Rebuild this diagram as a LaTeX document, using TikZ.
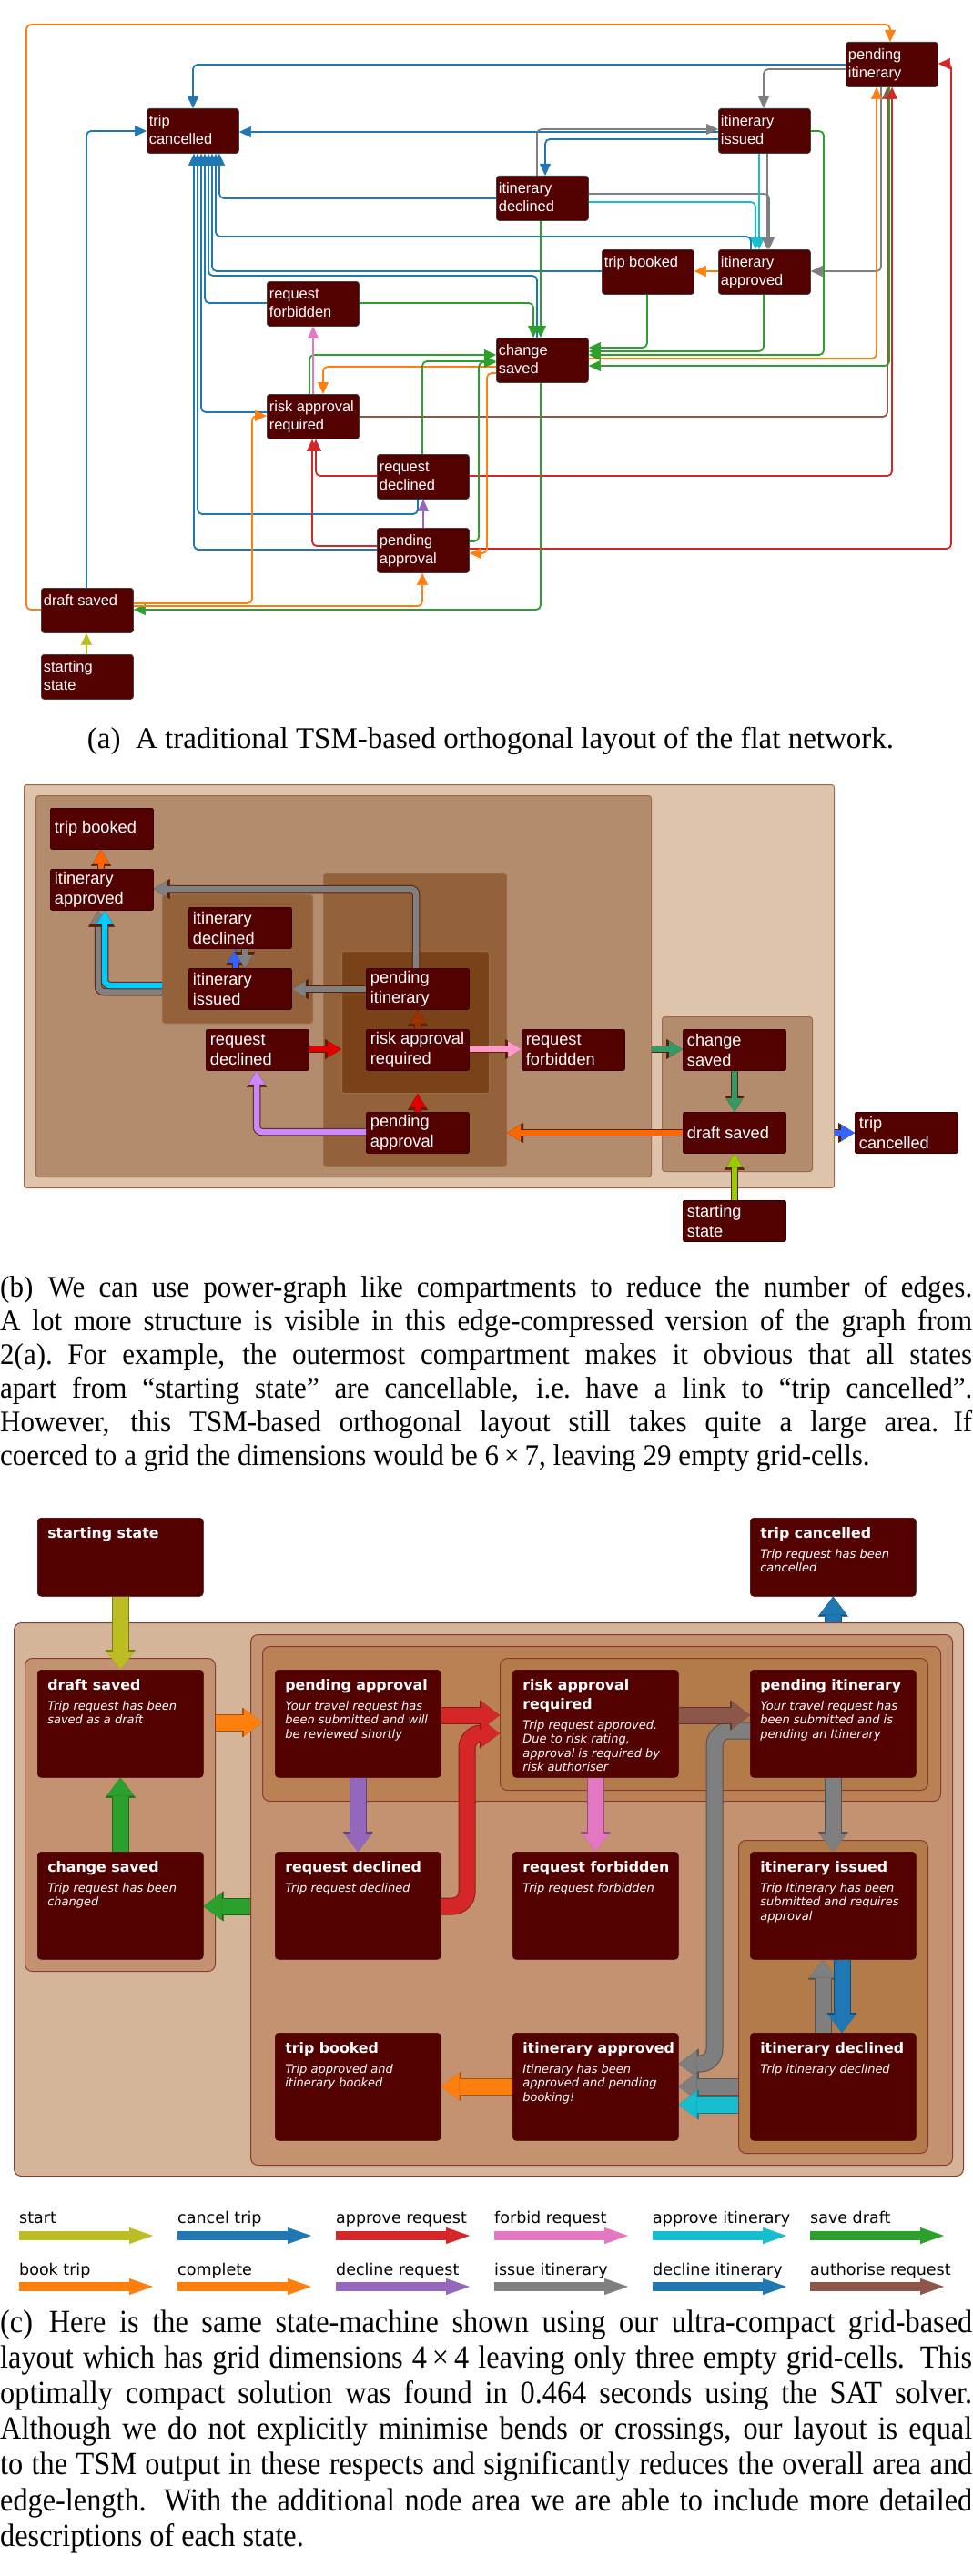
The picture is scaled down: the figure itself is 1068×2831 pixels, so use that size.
\documentclass[tikz,border=0pt]{standalone}
\usepackage{fontspec}
\setmainfont{Liberation Serif}
\newfontfamily\capbfont{Liberation Serif}[FakeStretch=0.94]
\newfontfamily\capcfont{Liberation Serif}[FakeStretch=0.91]
\newfontfamily\asans{Liberation Sans}
\newfontfamily\dsans{DejaVu Sans}[ItalicFont={DejaVu Sans Oblique},BoldFont={DejaVu Sans Bold},BoldItalicFont={DejaVu Sans Bold Oblique}]
\usetikzlibrary{arrows.meta}

\definecolor{nred}{HTML}{520000}
\definecolor{tblue}{HTML}{1F77B4}
\definecolor{torange}{HTML}{FF7F0E}
\definecolor{tgreen}{HTML}{2CA02C}
\definecolor{tred}{HTML}{D62728}
\definecolor{tpurple}{HTML}{9467BD}
\definecolor{tbrown}{HTML}{8C564B}
\definecolor{tpink}{HTML}{E377C2}
\definecolor{tgrey}{HTML}{7F7F7F}
\definecolor{tolive}{HTML}{BCBD22}
\definecolor{tcyan}{HTML}{17BECF}
\definecolor{borange}{HTML}{FF6600}
\definecolor{bgrey}{HTML}{808080}
\definecolor{bcyan}{HTML}{00CCFF}
\definecolor{bblue}{HTML}{3366FF}
\definecolor{bbrown}{HTML}{993300}
\definecolor{bred}{HTML}{E00000}
\definecolor{bpink}{HTML}{FF99CC}
\definecolor{bpurple}{HTML}{CC88FF}
\definecolor{bgreen}{HTML}{339966}
\definecolor{bolive}{HTML}{99CC00}
\definecolor{boutline}{HTML}{5A1E0A}
\definecolor{bc1}{HTML}{DDC4AB}
\definecolor{bc2}{HTML}{B38B6D}
\definecolor{bc3}{HTML}{93623A}
\definecolor{bc4}{HTML}{7A4218}
\definecolor{bcline}{HTML}{9A6A4A}
\definecolor{cc1}{HTML}{D5B59A}
\definecolor{cc2}{HTML}{C39270}
\definecolor{cc3}{HTML}{B98154}
\definecolor{cc4}{HTML}{B47B4A}
\definecolor{ccline}{HTML}{8B3A30}

\newcommand\atx[1]{\parbox[c][49pt][t]{101pt}{\asans\fontsize{16.4}{20}\selectfont\leftskip=2.5pt\rightskip=0pt plus 1fil\rule{0pt}{19pt}#1}}
\newcommand\btx[1]{\parbox[c][45pt][c]{113pt}{\asans\fontsize{18.2}{22}\selectfont\leftskip=4.5pt\rightskip=0pt plus 1fil #1}}
\newcommand\ctx[3][118pt]{\parbox[c][#1][t]{182pt}{\dsans\leftskip=11pt\rightskip=0pt plus 1fil\fontsize{15.8}{21}\selectfont\bfseries\rule{0pt}{22pt}#2\par\vspace{6.5pt}\fontsize{13}{15.5}\selectfont\mdseries\itshape #3\par}}

\tikzset{
  anode/.style={rectangle, rounded corners=3pt, fill=nred, draw=black!75, line width=0.8pt, inner sep=0pt, anchor=north west, text=white},
  bnode/.style={rectangle, rounded corners=2pt, fill=nred, draw=nred!70!black, line width=0.8pt, inner sep=0pt, anchor=north west, text=white},
  cnode/.style={rectangle, rounded corners=4pt, fill=nred, draw=nred!80!black, line width=0.6pt, inner sep=0pt, anchor=north west, text=white},
  comp/.style={rectangle, inner sep=0pt, anchor=north west, draw=bcline, line width=1pt, rounded corners=3pt},
  ccomp/.style={rectangle, inner sep=0pt, anchor=north west, draw=ccline, line width=1pt, rounded corners=8pt},
  aedge/.style={line width=1.8pt, rounded corners=5pt, -{Triangle[width=12pt,length=13pt,line width=0.4pt]}},
  fatb/.style={preaction={draw=boutline, line width=8.5pt, -{Triangle[width=22pt,length=18pt,line width=0.4pt]}}, draw=#1, line width=6.5pt, -{Triangle[width=18pt,length=15pt,line width=0.4pt]}, rounded corners=6pt},
  fatc/.style={preaction={draw=#1!65!black, line width=19pt, -{Triangle[width=33pt,length=22pt,line width=0.4pt]}}, draw=#1, line width=17pt, -{Triangle[width=30pt,length=20pt,line width=0.4pt]}, rounded corners=16pt},
  lgarrow/.style={line width=9.5pt, -{Triangle[width=18pt,length=26pt,line width=0.4pt]}},
  lgtext/.style={anchor=base west, inner sep=0pt, font={\dsans\fontsize{17.5}{20}\selectfont}},
}

\begin{document}
\begin{tikzpicture}[x=1pt,y=-1pt]
\fill[white] (0,0) rectangle (1068,2831);
\useasboundingbox (0,0) rectangle (1068,2831);

% ================= (a) =================
\node[anode] (pi) at (929,46) {\atx{pending\\itinerary}};
\node[anode] (tc) at (161,119) {\atx{trip\\cancelled}};
\node[anode] (iis) at (789,119) {\atx{itinerary\\issued}};
\node[anode] (idc) at (545,193) {\atx{itinerary\\declined}};
\node[anode] (tb) at (661,274) {\atx{trip booked}};
\node[anode] (iap) at (789,274) {\atx{itinerary\\approved}};
\node[anode] (rf) at (293,309) {\atx{request\\forbidden}};
\node[anode] (cs) at (545,371) {\atx{change\\saved}};
\node[anode] (rar) at (293,433) {\atx{risk approval\\required}};
\node[anode] (rd) at (414,499) {\atx{request\\declined}};
\node[anode] (pa) at (414,580) {\atx{pending\\approval}};
\node[anode] (ds) at (45,646) {\atx{draft saved}};
\node[anode] (ss) at (45,719) {\atx{starting\\state}};

\draw[aedge,torange] (ds.west |- 0,670) -- (29,670) -- (29,27) -- (978,27) -- (pi.north -| 978,0);
\draw[aedge,tblue] (pi.west |- 0,71) -- (212,71) -- (tc.north -| 212,0);
\draw[aedge,tgrey] (pi.west |- 0,76) -- (839,76) -- (iis.north -| 839,0);
\draw[aedge,tgrey] (pi.south -| 968,0) -- (968,298) -- (iap.east |- 0,298);
\draw[aedge,torange] (cs.east |- 0,394) -- (963,394) -- (pi.south -| 963,0);
\draw[aedge,tbrown] (rar.east |- 0,458) -- (975,458) -- (pi.south -| 975,0);
\draw[aedge,tgreen] (pi.south -| 977,0) -- (977,402) -- (cs.east |- 0,402);
\draw[aedge,tred] (rd.east |- 0,523) -- (980,523) -- (pi.south -| 980,0);
\draw[aedge,tred] (pa.east |- 0,603) -- (1045,603) -- (1045,70) -- (pi.east |- 0,70);
\draw[aedge,tgreen] (iis.east |- 0,144) -- (905,144) -- (905,390) -- (cs.east |- 0,390);
\draw[aedge,tgreen] (iap.south -| 839,0) -- (839,386) -- (cs.east |- 0,386);
\draw[aedge,tgreen] (tb.south -| 711,0) -- (711,382) -- (cs.east |- 0,382);
\draw[aedge,tblue] (iis.west |- 0,145) -- (tc.east |- 0,145);
\draw[aedge,tgrey] (idc.north -| 590,0) -- (590,142) -- (iis.west |- 0,142);
\draw[aedge,tblue] (iis.west |- 0,153) -- (599,153) -- (idc.north -| 599,0);
\draw[aedge,tgrey] (idc.east |- 0,213) -- (845,213) -- (iap.north -| 845,0);
\draw[aedge,tcyan] (idc.east |- 0,222) -- (830,222) -- (iap.north -| 830,0);
\draw[aedge,tcyan,line width=1.2pt] (iis.south -| 834,0) -- (iap.north -| 834,0);
\draw[aedge,tgrey] (iis.south -| 843,0) -- (iap.north -| 843,0);
\draw[aedge,torange] (iap.west |- 0,298) -- (tb.east |- 0,298);
\draw[aedge,tblue] (idc.west |- 0,218) -- (241,218) -- (tc.south -| 241,0);
\draw[aedge,tblue] (iap.north -| 825,0) -- (825,260) -- (237,260) -- (tc.south -| 237,0);
\draw[aedge,tblue] (tb.west |- 0,298) -- (233,298) -- (tc.south -| 233,0);
\draw[aedge,tblue] (cs.north -| 590,0) -- (590,303) -- (229,303) -- (tc.south -| 229,0);
\draw[aedge,tblue] (rf.west |- 0,333) -- (225,333) -- (tc.south -| 225,0);
\draw[aedge,tblue] (rar.west |- 0,453) -- (221,453) -- (tc.south -| 221,0);
\draw[aedge,tblue] (rd.south -| 459,0) -- (459,565) -- (217,565) -- (tc.south -| 217,0);
\draw[aedge,tblue] (pa.west |- 0,604) -- (213,604) -- (tc.south -| 213,0);
\draw[aedge,tblue] (ds.north -| 95,0) -- (95,144) -- (tc.west |- 0,144);
\draw[aedge,tgreen,line width=1.3pt] (idc.south -| 594,0) -- (cs.north -| 594,0);
\draw[aedge,tgreen] (rf.east |- 0,333) -- (586,333) -- (cs.north -| 586,0);
\draw[aedge,tgreen] (cs.south -| 594,0) -- (594,670) -- (ds.east |- 0,670);
\draw[aedge,torange] (ds.east |- 0,663) -- (277,663) -- (277,457) -- (rar.west |- 0,457);
\draw[aedge,torange] (ds.east |- 0,666) -- (464,666) -- (pa.south -| 464,0);
\draw[aedge,torange] (cs.west |- 0,410) -- (535,410) -- (535,608) -- (pa.east |- 0,608);
\draw[aedge,torange] (cs.west |- 0,403) -- (355,403) -- (rar.north -| 355,0);
\draw[aedge,tgreen] (rar.north -| 340,0) -- (340,390) -- (cs.west |- 0,390);
\draw[aedge,tpink,line width=1.2pt] (rar.north -| 344,0) -- (rf.south -| 344,0);
\draw[aedge,tgreen] (rd.north -| 464,0) -- (464,397) -- (cs.west |- 0,397);
\draw[aedge,tgreen] (pa.east |- 0,595) -- (526,595) -- (526,398) -- (cs.west |- 0,398);
\draw[aedge,tpurple,line width=1.3pt] (pa.north -| 465,0) -- (rd.south -| 465,0);
\draw[aedge,tred] (rd.west |- 0,523) -- (347,523) -- (rar.south -| 347,0);
\draw[aedge,tred] (pa.west |- 0,600) -- (343,600) -- (rar.south -| 343,0);
\draw[aedge,tolive,line width=1.3pt] (ss.north -| 95,0) -- (ds.south -| 95,0);

\node[anchor=base, inner sep=0pt] (capa) at (539,822) {\fontsize{33}{37}\selectfont (a)\enspace A traditional TSM-based orthogonal layout of the flat network.};

% ================= (b) =================
\node[comp, fill=bc1, minimum width=890pt, minimum height=443pt] (bout) at (26,862) {};
\node[comp, fill=bc2, minimum width=676pt, minimum height=419pt] (bbig) at (39,874) {};
\node[comp, fill=bc3, minimum width=201pt, minimum height=322pt] (bcol) at (355,959) {};
\node[comp, fill=bc4, minimum width=162pt, minimum height=156pt] (bdark) at (375,1045) {};
\node[comp, fill=bc3, minimum width=165pt, minimum height=141pt] (bitin) at (178,983) {};
\node[comp, fill=bc2, minimum width=165pt, minimum height=170pt] (bright) at (727,1117) {};

\node[bnode] (btb) at (55,888) {\btx{trip booked}};
\node[bnode] (bia) at (55,955) {\btx{itinerary\\approved}};
\node[bnode] (bid) at (207,997) {\btx{itinerary\\declined}};
\node[bnode] (bii) at (207,1064) {\btx{itinerary\\issued}};
\node[bnode] (bpi) at (402,1064) {\btx{pending\\itinerary}};
\node[bnode] (brd) at (226,1131) {\btx{request\\declined}};
\node[bnode] (brar) at (402,1131) {\btx{risk approval\\required}};
\node[bnode] (brf) at (573,1131) {\btx{request\\forbidden}};
\node[bnode] (bcs) at (750,1131) {\btx{change\\saved}};
\node[bnode] (bpa) at (402,1222) {\btx{pending\\approval}};
\node[bnode] (bds) at (750,1222) {\btx{draft saved}};
\node[bnode] (btc) at (939,1222) {\btx{trip\\cancelled}};
\node[bnode] (bss) at (750,1319) {\btx{starting\\state}};

\draw[fatb=borange] (bia.north -| 111,0) -- (btb.south -| 111,0);
\draw[fatb=bgrey] (bpi.north -| 457,0) -- (457,977) -- (bia.east |- 0,977);
\draw[fatb=bgrey] (bitin.west |- 0,1090) -- (108,1090) -- (bia.south -| 108,0);
\draw[fatb=bcyan] (bitin.west |- 0,1083) -- (115,1083) -- (bia.south -| 115,0);
\draw[fatb=bblue] (bii.north -| 259,0) -- (bid.south -| 259,0);
\draw[fatb=bgrey] (bid.south -| 269,0) -- (bii.north -| 269,0);
\draw[fatb=bgrey] (bpi.west |- 0,1087) -- (bii.east |- 0,1087);
\draw[fatb=bbrown] (brar.north -| 459,0) -- (bpi.south -| 459,0);
\draw[fatb=bred] (brd.east |- 0,1153) -- (bdark.west |- 0,1153);
\draw[fatb=bpink] (brar.east |- 0,1153) -- (brf.west |- 0,1153);
\draw[fatb=bred] (bpa.north -| 459,0) -- (bdark.south -| 459,0);
\draw[fatb=bpurple] (bpa.west |- 0,1244) -- (282,1244) -- (brd.south -| 282,0);
\draw[fatb=borange] (bds.west |- 0,1245) -- (bcol.east |- 0,1245);
\draw[fatb=bgreen] (bbig.east |- 0,1153) -- (bcs.west |- 0,1153);
\draw[fatb=bgreen] (bcs.south -| 807,0) -- (bds.north -| 807,0);
\draw[fatb=bblue] (bout.east |- 0,1245) -- (btc.west |- 0,1245);
\draw[fatb=bolive] (bss.north -| 807,0) -- (bds.south -| 807,0);

\node[anchor=base west, inner sep=0pt] (capb) at (0,1425) {\parbox[t]{1068pt}{\capbfont\fontsize{33}{37}\selectfont
\makebox[1068pt][s]{(b)\enspace We can use power-graph like compartments to reduce the number of edges.}\\
\makebox[1068pt][s]{A lot more structure is visible in this edge-compressed version of the graph from}\\
\makebox[1068pt][s]{2(a).\enspace For example, the outermost compartment makes it obvious that all states}\\
\makebox[1068pt][s]{apart from “starting state” are cancellable, i.e.\enspace have a link to “trip cancelled”.}\\
\makebox[1068pt][s]{However, this TSM-based orthogonal layout still takes quite a large area.\enspace If}\\
coerced to a grid the dimensions would be 6\,×\,7, leaving 29 empty grid-cells.}};

% ================= (c) =================
\node[ccomp, fill=cc1, minimum width=1043pt, minimum height=608pt] (cout) at (15,1783) {};
\node[ccomp, fill=cc2, minimum width=209pt, minimum height=344pt] (cleft) at (27,1822) {};
\node[ccomp, fill=cc2, minimum width=771pt, minimum height=583pt] (cbig) at (275,1796) {};
\node[ccomp, fill=cc3, minimum width=745pt, minimum height=170pt] (cin) at (288,1809) {};
\node[ccomp, fill=cc4, minimum width=470pt, minimum height=145pt] (cin2) at (549,1822) {};
\node[ccomp, fill=cc4, minimum width=208pt, minimum height=344pt] (citin) at (811,2022) {};

\node[cnode] (css) at (41,1668) {\ctx[86pt]{starting state}{}};
\node[cnode] (ctc) at (824,1668) {\ctx[86pt]{trip cancelled}{Trip request has been\\cancelled}};
\node[cnode] (cds) at (41,1835) {\ctx{draft saved}{Trip request has been\\saved as a draft}};
\node[cnode] (cpa) at (302,1835) {\ctx{pending approval}{Your travel request has\\been submitted and will\\be reviewed shortly}};
\node[cnode] (crar) at (563,1835) {\ctx{risk approval\\required}{Trip request approved.\\Due to risk rating,\\approval is required by\\risk authoriser}};
\node[cnode] (cpi) at (824,1835) {\ctx{pending itinerary}{Your travel request has\\been submitted and is\\pending an Itinerary}};
\node[cnode] (ccs) at (41,2035) {\ctx{change saved}{Trip request has been\\changed}};
\node[cnode] (crd) at (302,2035) {\ctx{request declined}{Trip request declined}};
\node[cnode] (crf) at (563,2035) {\ctx{request forbidden}{Trip request forbidden}};
\node[cnode] (cii) at (824,2035) {\ctx{itinerary issued}{Trip Itinerary has been\\submitted and requires\\approval}};
\node[cnode] (ctb) at (302,2234) {\ctx{trip booked}{Trip approved and\\itinerary booked}};
\node[cnode] (cia) at (563,2234) {\ctx{itinerary approved}{Itinerary has been\\approved and pending\\booking!}};
\node[cnode] (cid) at (824,2234) {\ctx{itinerary declined}{Trip itinerary declined}};

\draw[fatc=tgrey] (cpi.west |- 0,1902) -- (785,1902) -- (785,2268) -- (cia.east |- 0,2268);
\draw[fatc=tolive] (css.south) -- (cds.north);
\draw[fatc=tblue] (ctc.south |- cout.north) -- (ctc.south);
\draw[fatc=torange] (cleft.east |- 0,1893) -- (cin.west |- 0,1893);
\draw[fatc=tred] (crd.east |- 0,2095) -- (513,2095) -- (513,1905) -- (cin2.west |- 0,1905);
\draw[fatc=tred] (cpa.east |- 0,1885) -- (cin2.west |- 0,1885);
\draw[fatc=tbrown] (crar.east |- 0,1885) -- (cpi.west |- 0,1885);
\draw[fatc=tgrey] (citin.west |- 0,2293) -- (cia.east |- 0,2293);
\draw[fatc=tcyan] (citin.west |- 0,2313) -- (cia.east |- 0,2313);
\draw[fatc=torange] (cia.west |- 0,2293) -- (ctb.east |- 0,2293);
\draw[fatc=tgrey] (cpi.south) -- (cii.north);
\draw[fatc=tpink] (crar.south) -- (crf.north);
\draw[fatc=tpurple] (cpa.south) -- (crd.north);
\draw[fatc=tgreen] (ccs.north) -- (cds.south);
\draw[fatc=tgreen] (cbig.west |- 0,2095) -- (ccs.east |- 0,2095);
\draw[fatc=tgrey] (cid.north -| 904,0) -- (cii.south -| 904,0);
\draw[fatc=tblue] (cii.south -| 925,0) -- (cid.north -| 925,0);

% legend
\foreach \lx/\lc/\lt [count=\i] in {21/tolive/start, 195/tblue/cancel trip, 369/tred/approve request, 543/tpink/forbid request, 717/tcyan/approve itinerary, 890/tgreen/save draft} {
  \node[lgtext] (lga\i) at (\lx,2443) {\lt};
  \coordinate (la\i) at (\lx,2457);
  \coordinate (lb\i) at (\lx+147,2457);
  \draw[lgarrow,\lc] (la\i) -- (lb\i);
}
\foreach \lx/\lc/\lt [count=\i] in {21/torange/book trip, 195/torange/complete, 369/tpurple/decline request, 543/tgrey/issue itinerary, 717/tblue/decline itinerary, 890/tbrown/authorise request} {
  \node[lgtext] (lgb\i) at (\lx,2500) {\lt};
  \coordinate (lc\i) at (\lx,2513);
  \coordinate (ld\i) at (\lx+147,2513);
  \draw[lgarrow,\lc] (lc\i) -- (ld\i);
}

\node[anchor=base west, inner sep=0pt] (capc) at (0,2563) {\parbox[t]{1068pt}{\capcfont\fontsize{35.5}{39.2}\selectfont
\makebox[1068pt][s]{(c)\enspace Here is the same state-machine shown using our ultra-compact grid-based}\\
\makebox[1068pt][s]{layout which has grid dimensions 4\,×\,4 leaving only three empty grid-cells. This}\\
\makebox[1068pt][s]{optimally compact solution was found in 0.464 seconds using the SAT solver.}\\
\makebox[1068pt][s]{Although we do not explicitly minimise bends or crossings, our layout is equal}\\
\makebox[1068pt][s]{to the TSM output in these respects and significantly reduces the overall area and}\\
\makebox[1068pt][s]{edge-length. With the additional node area we are able to include more detailed}\\
descriptions of each state.}};
\end{tikzpicture}
\end{document}
